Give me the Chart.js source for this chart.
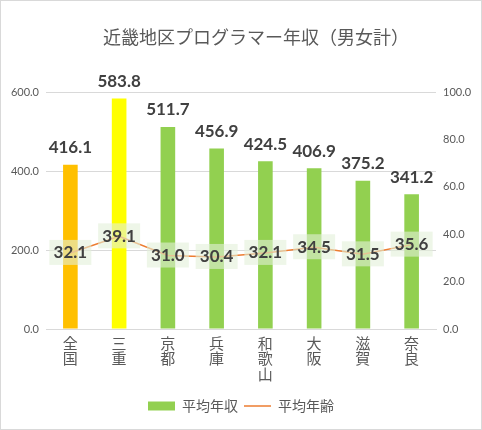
<!DOCTYPE html>
<html>
<head>
<meta charset="utf-8">
<script src="https://cdn.jsdelivr.net/npm/chart.js@4.4.1/dist/chart.umd.min.js"></script>
<style>
  html, body { margin: 0; padding: 0; background: #fff; }
  #wrap { width: 480px; height: 428px; border: 1px solid #d9d9d9; }
</style>
</head>
<body>
<div id="wrap"><canvas id="chart" width="480" height="428"></canvas></div>
<script>
const prefectures = ["全国", "三重", "京都", "兵庫", "和歌山", "大阪", "滋賀", "奈良"];
const avgIncome = [416.1, 583.8, 511.7, 456.9, 424.5, 406.9, 375.2, 341.2];
const avgAge = [32.1, 39.1, 31.0, 30.4, 32.1, 34.5, 31.5, 35.6];
const barColors = ["#FFC000", "#FFFF00", "#92D050", "#92D050", "#92D050", "#92D050", "#92D050", "#92D050"];

const jpFont = "'Noto Sans CJK JP', sans-serif";
const numFont = "Lato, 'Liberation Sans', sans-serif";
const grey = "#595959";

// title and value labels drawn by hand
const labelPlugin = {
  id: "labels",
  afterDatasetsDraw(chart) {
    const ctx = chart.ctx;
    ctx.save();
    ctx.fillStyle = grey;
    ctx.font = "18px " + jpFont;
    ctx.textAlign = "center";
    ctx.textBaseline = "middle";
    ctx.fillText("近畿地区プログラマー年収（男女計）", 255, 36);

    ctx.font = "bold 17px " + numFont;
    ctx.fillStyle = "#404040";
    chart.getDatasetMeta(1).data.forEach((bar, i) => {
      ctx.fillText(avgIncome[i].toFixed(1), bar.x, bar.y - 17);
    });

    chart.getDatasetMeta(0).data.forEach((pt, i) => {
      ctx.fillStyle = "rgba(226, 240, 217, 0.6)";
      ctx.fillRect(pt.x - 21, pt.y - 13, 42, 25);
      ctx.fillStyle = "#404040";
      ctx.fillText(avgAge[i].toFixed(1), pt.x, pt.y);
    });
    ctx.restore();
  }
};

const ctx = document.getElementById("chart").getContext("2d");

new Chart(ctx, {
  data: {
    labels: prefectures.map(p => p.split("")),
    datasets: [
      {
        type: "line",
        label: "平均年齢",
        data: avgAge,
        yAxisID: "y1",
        borderColor: "#ED7D31",
        backgroundColor: "#ED7D31",
        borderWidth: 1.5,
        pointRadius: 0,
        tension: 0,
        order: 0
      },
      {
        type: "bar",
        label: "平均年収",
        data: avgIncome,
        yAxisID: "y",
        backgroundColor: barColors,
        barPercentage: 0.6,
        categoryPercentage: 0.5,
        order: 1
      }
    ]
  },
  options: {
    responsive: false,
    animation: false,
    layout: { padding: { top: 91, left: 0, right: 0, bottom: 6 } },
    plugins: {
      title: { display: false },
      tooltip: { enabled: false },
      legend: {
        position: "bottom",
        reverse: true,
        labels: {
          color: grey,
          font: { family: jpFont, size: 14 },
          usePointStyle: true,
          pointStyleWidth: 27,
          boxHeight: 9,
          padding: 6,
          generateLabels(chart) {
            const items = Chart.defaults.plugins.legend.labels.generateLabels(chart);
            items.forEach(it => {
              if (it.datasetIndex === 1) {
                it.fillStyle = "#92D050";
                it.strokeStyle = "#92D050";
                it.pointStyle = "rect";
                it.lineWidth = 0;
              } else {
                it.pointStyle = "line";
                it.strokeStyle = "#ED7D31";
                it.lineWidth = 1.5;
              }
            });
            return items;
          }
        }
      }
    },
    scales: {
      x: {
        grid: { display: false, drawTicks: false },
        border: { color: "#d9d9d9" },
        ticks: {
          color: grey,
          font: { family: jpFont, size: 15, lineHeight: 1.05 },
          maxRotation: 0,
          autoSkip: false,
          padding: 6
        },
        afterFit(scale) { scale.height = 64; }
      },
      y: {
        position: "left",
        min: 0,
        max: 600,
        ticks: {
          stepSize: 200,
          color: grey,
          font: { family: numFont, size: 11 },
          padding: 7,
          callback: v => v.toFixed(1)
        },
        grid: { color: "#d9d9d9", drawTicks: false },
        border: { display: false },
        afterFit(scale) { scale.width = 45; }
      },
      y1: {
        position: "right",
        min: 0,
        max: 100,
        ticks: {
          stepSize: 20,
          color: grey,
          font: { family: numFont, size: 11 },
          padding: 7,
          callback: v => v.toFixed(1)
        },
        grid: { display: false, drawTicks: false },
        border: { display: false },
        afterFit(scale) { scale.width = 45; }
      }
    }
  },
  plugins: [labelPlugin]
});
</script>
</body>
</html>
